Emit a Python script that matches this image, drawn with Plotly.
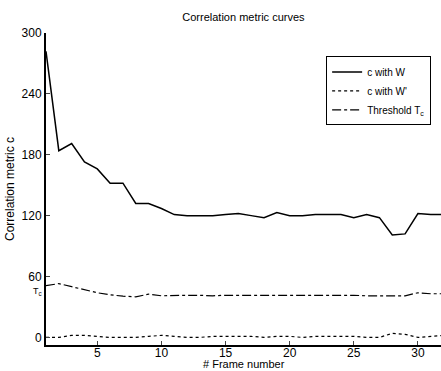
import plotly.graph_objects as go

frames = list(range(1, 33))
c_with_W = [282, 184, 191, 173, 166, 152, 152, 132, 132, 127, 121, 120, 120, 120, 121, 122,
            120, 118, 123, 120, 120, 121, 121, 121, 118, 121, 118, 101, 102, 122, 121, 121]
c_with_Wp = [0, 0, 2, 2, 1, 0, 0, 0, 1, 2, 1, 0, 0, 1, 1, 1,
             1, 0, 1, 1, 0, 1, 1, 1, 1, 0, 0, 4, 3, 0, 1, 2]
threshold = [51, 53, 50, 47, 44, 42, 40.6, 40, 42.6, 41, 41.5, 41.5, 41.5, 41, 41.5, 41.5,
             41.5, 41.5, 41.5, 41.5, 41.5, 42, 42, 41.5, 41.5, 41, 41, 40.5, 41, 44, 43, 43]
y_ticks = [0, 60, 120, 180, 240, 300]
x_ticks = [5, 10, 15, 20, 25, 30]

font = "Liberation Sans, Arial, sans-serif"

fig = go.Figure()
fig.add_trace(go.Scatter(x=frames, y=c_with_W, mode="lines", name="c with W",
                         line=dict(color="black", width=1.5)))
fig.add_trace(go.Scatter(x=frames, y=c_with_Wp, mode="lines", name="c with W'",
                         line=dict(color="black", width=1.2, dash="dot")))
fig.add_trace(go.Scatter(x=frames, y=threshold, mode="lines", name="Threshold T<sub>c</sub>",
                         line=dict(color="black", width=1.2, dash="dashdot")))

fig.update_layout(
    width=441, height=371,
    margin=dict(l=46, r=0, t=33, b=26, autoexpand=False),
    paper_bgcolor="white", plot_bgcolor="white",
    font=dict(family=font, size=12, color="black"),
    title=dict(text="Correlation metric curves", x=0.552, xanchor="center",
               y=0.955, yanchor="middle", font=dict(size=11)),
    showlegend=True,
    legend=dict(x=0.975, y=0.925, xanchor="right", yanchor="top",
                bordercolor="black", borderwidth=1, bgcolor="white",
                font=dict(size=10), tracegroupgap=0, itemwidth=30),
    xaxis=dict(range=[1, 31.8], tickvals=x_ticks, ticks="inside", ticklen=4,
               showline=True, linecolor="black", linewidth=2, showgrid=False,
               zeroline=False, tickfont=dict(size=12), automargin=False,
               ticklabelstandoff=-4),
    yaxis=dict(range=[-7.5, 300], tickvals=y_ticks, ticks="inside", ticklen=4,
               showline=True, linecolor="black", linewidth=2, showgrid=False,
               zeroline=False, tickfont=dict(size=12), automargin=False,
               title=dict(text="Correlation metric c", font=dict(size=12), standoff=4)),
)
fig.add_annotation(x=0.5, xref="paper", y=0, yref="paper", yshift=-27,
                   text="# Frame number", showarrow=False, xanchor="center",
                   yanchor="bottom", font=dict(size=11))
fig.add_annotation(x=0, xref="paper", y=45, yref="y", text="T<sub>c</sub>",
                   showarrow=False, xanchor="right", xshift=-2, font=dict(size=9))

fig.write_html("out.html", config={"displayModeBar": False},
               post_script="document.body.style.margin='0';")
